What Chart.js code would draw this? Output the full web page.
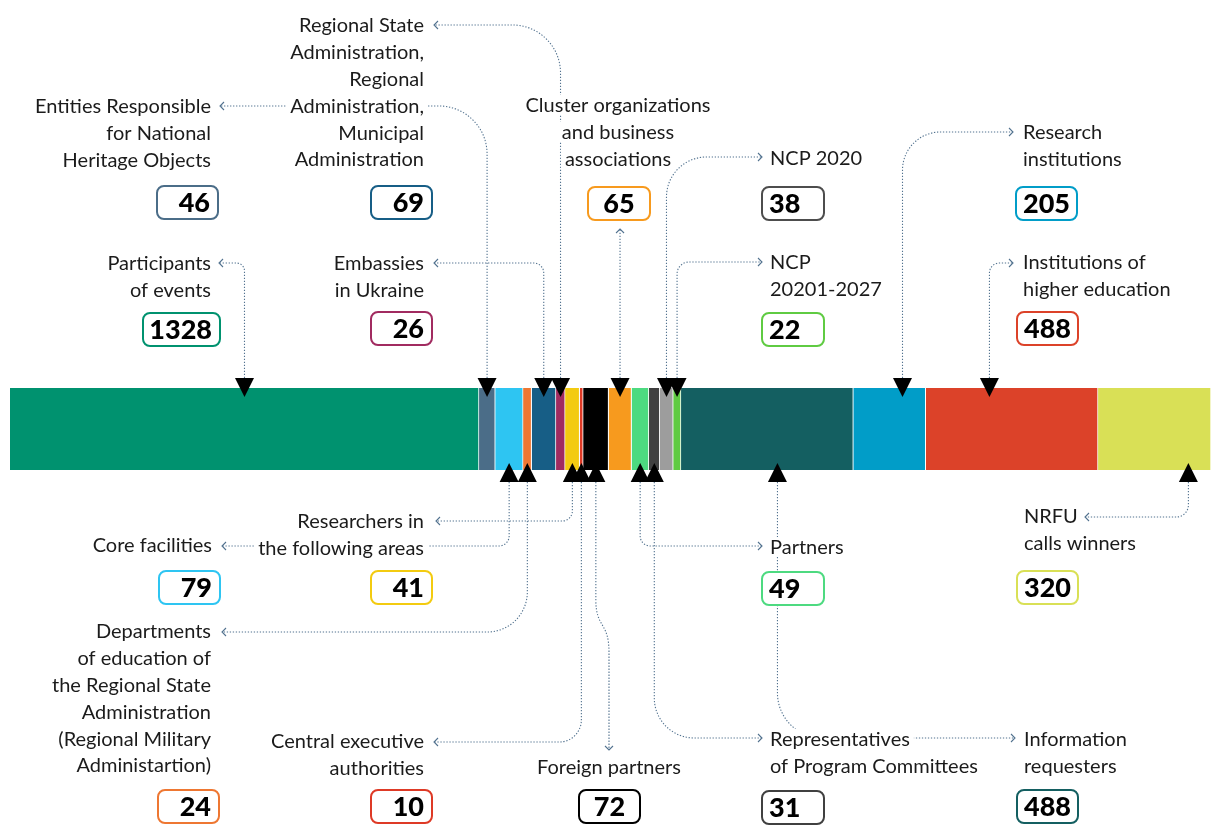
<!DOCTYPE html>
<html>
<head>
<meta charset="utf-8">
<script src="https://cdn.jsdelivr.net/npm/chart.js@4.4.1/dist/chart.umd.min.js"></script>
<style>
  body { margin: 0; background: #fff; }
  #wrap { width: 1211px; height: 840px; position: relative; }
</style>
</head>
<body>
<div id="wrap"><canvas id="chart"></canvas></div>
<script>
// categories in bar order, left to right
const categories = [
    "Participants of events",
    "Entities Responsible for National Heritage Objects",
    "Core facilities",
    "Departments of education of the Regional State Administration (Regional Military Administartion)",
    "Regional State Administration, Regional Administration, Municipal Administration",
    "Embassies in Ukraine",
    "Researchers in the following areas",
    "Central executive authorities",
    "Foreign partners",
    "Cluster organizations and business associations",
    "Partners",
    "Representatives of Program Committees",
    "NCP 2020",
    "NCP 20201-2027",
    "Information requesters",
    "Research institutions",
    "Institutions of higher education",
    "NRFU calls winners"
];
const values = [1328, 46, 79, 24, 69, 26, 41, 10, 72, 65, 49, 31, 38, 22, 488, 205, 488, 320];
const colors = [
    '#00926f', '#4b6d88', '#2ec5f2', '#ee7732', '#175e86', '#a12b60',
    '#f3cb10', '#de3a26', '#000000', '#f79a1e', '#4dda80', '#404040',
    '#9d9d9d', '#5fcb42', '#145f61', '#019dc8', '#dc4229', '#d9e056'
];

const total = values.reduce((a, b) => a + b, 0);

// where each label sits and how its dotted link runs (layout only)
const notes = [
    {lines: ["Participants", "of events"], align: 'right', x: 211, y: 263, box: [143, 313, 77], link: {side: 'top', turnY: 263, endX: 219, r: 8}},
    {lines: ["Entities Responsible", "for National", "Heritage Objects"], align: 'right', x: 211, y: 106, box: [157, 186, 61], link: {side: 'top', turnY: 106, endX: 220, r: 48}},
    {lines: ["Core facilities"], align: 'right', x: 212, y: 545, box: [159, 571, 61], link: {side: 'bottom', turnY: 546, endX: 222, r: 10}},
    {lines: ["Departments", "of education of", "the Regional State", "Administration", "(Regional Military", "Administartion)"], align: 'right', x: 211, y: 631, box: [158, 790, 61], link: {side: 'bottom', turnY: 632, endX: 222, r: 40}},
    {lines: ["Regional State", "Administration,", "Regional", "Administration,", "Municipal", "Administration"], align: 'right', x: 424, y: 25, box: [371, 186, 61], link: {side: 'top', turnY: 25, endX: 434, r: 48, seg: 5}},
    {lines: ["Embassies", "in Ukraine"], align: 'right', x: 424, y: 263, box: [371, 312, 61], link: {side: 'top', turnY: 263, endX: 434, r: 10, seg: 4}},
    {lines: ["Researchers in", "the following areas"], align: 'right', x: 424, y: 521, box: [371, 571, 61], link: {side: 'bottom', turnY: 521, endX: 436, r: 10}},
    {lines: ["Central executive", "authorities"], align: 'right', x: 424, y: 741, box: [371, 790, 61], link: {side: 'bottom', turnY: 742, endX: 434, r: 22}},
    {lines: ["Foreign partners"], align: 'center', x: 609, y: 767, box: [579, 790, 61], link: {side: 'scurve', toX: 609, endY: 750}},
    {lines: ["Cluster organizations", "and business", "associations"], align: 'center', x: 618, y: 105, box: [588, 187, 62], link: {side: 'up', endY: 229}},
    {lines: ["Partners"], align: 'left', x: 770, y: 547, box: [762, 572, 62], link: {side: 'bottom', turnY: 546, endX: 762, r: 10}},
    {lines: ["Representatives", "of Program Committees"], align: 'left', x: 770, y: 739, box: [762, 791, 62], link: {side: 'bottom', turnY: 738, endX: 762, r: 40}},
    {lines: ["NCP 2020"], align: 'left', x: 770, y: 158, box: [762, 187, 62], link: {side: 'top', turnY: 157, endX: 762, r: 40}, stroke: '#4d4d4d'},
    {lines: ["NCP", "20201-2027"], align: 'left', x: 770, y: 262, box: [762, 313, 62], link: {side: 'top', turnY: 262, endX: 762, r: 12}},
    {lines: ["Information", "requesters"], align: 'left', x: 1024, y: 739, box: [1017, 790, 61], link: {side: 'bottom', turnY: 738, endX: 1015, r: 45, frac: 0.56}},
    {lines: ["Research", "institutions"], align: 'left', x: 1023, y: 132, box: [1016, 187, 61], link: {side: 'top', turnY: 132, endX: 1013, r: 38, frac: 0.68}},
    {lines: ["Institutions of", "higher education"], align: 'left', x: 1023, y: 262, box: [1017, 312, 61], link: {side: 'top', turnY: 263, endX: 1013, r: 10, frac: 0.37}},
    {lines: ["NRFU", "calls winners"], align: 'left', x: 1024, y: 516, box: [1017, 571, 61], link: {side: 'bottom', turnY: 517, endX: 1085, r: 12, frac: 0.8}}
];

const LINE_H = 26.8;
const TRI = 19;
const LINK_COLOR = '#52728f';
const FONT = 'Lato, "Open Sans", sans-serif';

function chevron(ctx, x, y, dir) {
    ctx.save();
    ctx.setLineDash([]);
    ctx.beginPath();
    if (dir == 'left') { ctx.moveTo(x + 4, y - 4); ctx.lineTo(x, y); ctx.lineTo(x + 4, y + 4); }
    if (dir == 'right') { ctx.moveTo(x - 4, y - 4); ctx.lineTo(x, y); ctx.lineTo(x - 4, y + 4); }
    if (dir == 'up') { ctx.moveTo(x - 4, y + 4); ctx.lineTo(x, y); ctx.lineTo(x + 4, y + 4); }
    if (dir == 'down') { ctx.moveTo(x - 4, y - 4); ctx.lineTo(x, y); ctx.lineTo(x + 4, y - 4); }
    ctx.stroke();
    ctx.restore();
}

function roundRect(ctx, x, y, w, h, r) {
    ctx.beginPath();
    ctx.moveTo(x + r, y);
    ctx.arcTo(x + w, y, x + w, y + h, r);
    ctx.arcTo(x + w, y + h, x, y + h, r);
    ctx.arcTo(x, y + h, x, y, r);
    ctx.arcTo(x, y, x + w, y, r);
    ctx.closePath();
}

const calloutPlugin = {
    id: 'callouts',
    afterDraw(chart) {
        const ctx = chart.ctx;
        const xs = chart.scales.x;
        const area = chart.chartArea;
        const topBase = area.top - 10;
        const botBase = area.bottom + 12;

        // segment edges from the data
        let starts = [], acc = 0;
        values.forEach(v => { starts.push(acc); acc += v; });
        const anchorX = (i, frac) => xs.getPixelForValue(starts[i] + values[i] * (frac == null ? 0.5 : frac));

        // dotted links
        ctx.save();
        ctx.strokeStyle = LINK_COLOR;
        ctx.lineWidth = 1.1;
        ctx.setLineDash([1.3, 1.7]);
        notes.forEach((n, i) => {
            const L = n.link;
            const x0 = anchorX(L.seg != null ? L.seg : i, L.frac);
            ctx.beginPath();
            if (L.side == 'top' || L.side == 'bottom') {
                const y0 = L.side == 'top' ? topBase : botBase;
                ctx.moveTo(x0, y0);
                ctx.arcTo(x0, L.turnY, L.endX, L.turnY, L.r);
                ctx.lineTo(L.endX, L.turnY);
                ctx.stroke();
                chevron(ctx, L.endX, L.turnY, L.endX < x0 ? 'left' : 'right');
            } else if (L.side == 'up') {
                ctx.moveTo(x0, topBase);
                ctx.lineTo(x0, L.endY);
                ctx.stroke();
                chevron(ctx, x0, L.endY, 'up');
            } else if (L.side == 'scurve') {
                ctx.moveTo(x0, botBase);
                ctx.lineTo(x0, 600);
                ctx.bezierCurveTo(x0, 628, L.toX, 622, L.toX, 652);
                ctx.lineTo(L.toX, L.endY);
                ctx.stroke();
                chevron(ctx, L.toX, L.endY, 'down');
            }
        });
        ctx.restore();

        // black pointers on the bar
        ctx.save();
        ctx.fillStyle = '#000';
        notes.forEach((n, i) => {
            const L = n.link;
            const x0 = anchorX(L.seg != null ? L.seg : i, L.frac);
            ctx.beginPath();
            if (L.side == 'top' || L.side == 'up') {
                ctx.moveTo(x0 - TRI / 2, topBase);
                ctx.lineTo(x0 + TRI / 2, topBase);
                ctx.lineTo(x0, topBase + TRI);
            } else {
                ctx.moveTo(x0 - TRI / 2, botBase);
                ctx.lineTo(x0 + TRI / 2, botBase);
                ctx.lineTo(x0, botBase - TRI);
            }
            ctx.closePath();
            ctx.fill();
        });
        ctx.restore();

        // label texts
        ctx.save();
        ctx.font = '20px ' + FONT;
        ctx.textBaseline = 'middle';
        notes.forEach(n => {
            n.lines.forEach((t, k) => {
                const y = n.y + k * LINE_H;
                const w = ctx.measureText(t).width;
                let left = n.x;
                if (n.align == 'right') left = n.x - w;
                if (n.align == 'center') left = n.x - w / 2;
                ctx.fillStyle = '#fff';
                ctx.fillRect(left - 4, y - 10, w + 8, 20);
                ctx.fillStyle = '#1b1b1b';
                ctx.textAlign = 'left';
                ctx.fillText(t, left, y + 1);
            });
        });
        ctx.restore();

        // value boxes
        ctx.save();
        notes.forEach((n, i) => {
            const [bx, by, bw] = n.box;
            const bh = 33;
            roundRect(ctx, bx, by, bw, bh, 7);
            ctx.fillStyle = '#fff';
            ctx.fill();
            ctx.lineWidth = 2;
            ctx.strokeStyle = n.stroke || colors[i];
            ctx.stroke();
            ctx.font = '900 27px ' + FONT;
            ctx.fillStyle = '#000';
            ctx.textBaseline = 'middle';
            let tx = bx + bw / 2;
            ctx.textAlign = 'center';
            if (n.align == 'right') { ctx.textAlign = 'right'; tx = bx + bw - 8; }
            if (n.align == 'left') { ctx.textAlign = 'left'; tx = bx + 7; }
            ctx.fillText(String(values[i]), tx, by + bh / 2 + 1);
        });
        ctx.restore();
    }
};

const datasets = categories.map((name, i) => ({
    label: name,
    data: [values[i]],
    backgroundColor: colors[i],
    borderColor: '#ffffff',
    borderWidth: {left: 0, right: 1, top: 0, bottom: 0},
    borderSkipped: false,
    barPercentage: 1,
    categoryPercentage: 1
}));

new Chart(document.getElementById('chart'), {
    type: 'bar',
    data: { labels: ['contacts'], datasets: datasets },
    options: {
        indexAxis: 'y',
        responsive: true,
        maintainAspectRatio: false,
        animation: false,
        layout: { padding: { left: 10, right: 0, top: 388, bottom: 370 } },
        scales: {
            x: { stacked: true, display: false, min: 0, max: total },
            y: { stacked: true, display: false }
        },
        plugins: {
            legend: { display: false },
            tooltip: { enabled: false }
        }
    },
    plugins: [calloutPlugin]
});
</script>
</body>
</html>
